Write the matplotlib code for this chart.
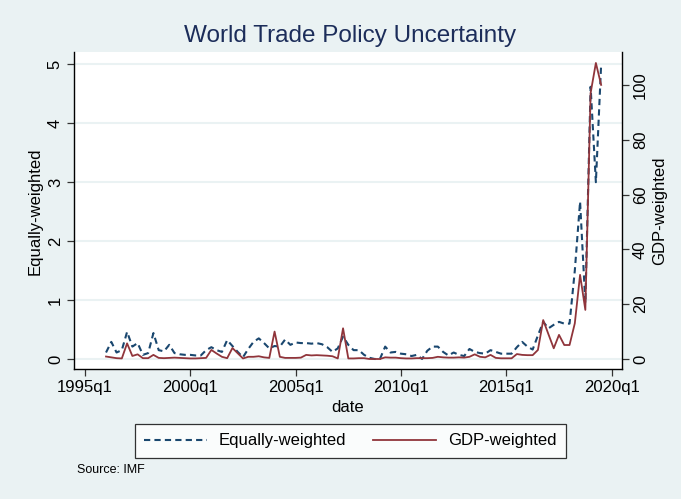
import matplotlib
matplotlib.use('Agg')
import matplotlib.pyplot as plt
from matplotlib.lines import Line2D
import numpy as np

plt.rcParams['font.family'] = ['Liberation Sans', 'DejaVu Sans']

start_year = 1996  # first quarter: 1996q1

equally_weighted = [
    0.11, 0.29, 0.11, 0.15,   # 1996
    0.46, 0.21, 0.27, 0.07,   # 1997
    0.10, 0.44, 0.15, 0.13,   # 1998
    0.24, 0.10, 0.08, 0.07,   # 1999
    0.07, 0.06, 0.06, 0.15,   # 2000
    0.20, 0.15, 0.12, 0.32,   # 2001
    0.22, 0.12, 0.03, 0.17,   # 2002
    0.29, 0.35, 0.27, 0.18,   # 2003
    0.22, 0.21, 0.33, 0.24,   # 2004
    0.28, 0.27, 0.27, 0.26,   # 2005
    0.27, 0.25, 0.20, 0.12,   # 2006
    0.18, 0.38, 0.24, 0.15,   # 2007
    0.15, 0.07, 0.02, 0.00,   # 2008
    0.00, 0.21, 0.11, 0.12,   # 2009
    0.09, 0.08, 0.05, 0.07,   # 2010
    0.00, 0.14, 0.21, 0.21,   # 2011
    0.12, 0.06, 0.11, 0.07,   # 2012
    0.05, 0.17, 0.12, 0.10,   # 2013
    0.09, 0.15, 0.12, 0.09,   # 2014
    0.09, 0.09, 0.20, 0.29,   # 2015
    0.21, 0.16, 0.40, 0.63,   # 2016
    0.52, 0.58, 0.63, 0.60,   # 2017
    0.60, 1.50, 2.67, 0.95,   # 2018
    4.62, 3.00, 5.00,         # 2019
]

gdp_weighted = [
    0.9, 0.6, 0.3, 0.2,       # 1996
    5.7, 1.1, 1.7, 0.3,       # 1997
    0.3, 1.5, 0.4, 0.3,       # 1998
    0.4, 0.5, 0.4, 0.3,       # 1999
    0.2, 0.2, 0.3, 0.4,       # 2000
    3.3, 2.0, 0.8, 0.3,       # 2001
    4.0, 2.1, 0.2, 0.8,       # 2002
    0.8, 1.0, 0.6, 0.4,       # 2003
    10.0, 0.8, 0.4, 0.4,      # 2004
    0.4, 0.5, 1.5, 1.3,       # 2005
    1.4, 1.3, 1.2, 1.0,       # 2006
    0.2, 11.2, 0.2, 0.2,      # 2007
    0.3, 0.3, 0.0, 0.0,       # 2008
    0.0, 0.6, 0.5, 0.5,       # 2009
    0.3, 0.2, 0.2, 0.3,       # 2010
    0.3, 0.3, 0.4, 0.8,       # 2011
    0.6, 0.5, 0.5, 0.6,       # 2012
    0.5, 0.8, 1.7, 0.8,       # 2013
    0.6, 1.5, 0.4, 0.25,      # 2014
    0.25, 0.25, 1.8, 1.5,     # 2015
    1.4, 1.4, 3.3, 14.2,      # 2016
    9.0, 3.9, 8.8, 5.1,       # 2017
    5.1, 13.0, 30.7, 17.9,    # 2018
    97.0, 108.0, 100.0,       # 2019
]

x_ticks = [1995, 2000, 2005, 2010, 2015, 2020]
x_tick_labels = ['1995q1', '2000q1', '2005q1', '2010q1', '2015q1', '2020q1']
left_ticks = [0, 1, 2, 3, 4, 5]
right_ticks = [0, 20, 40, 60, 80, 100]

dates = start_year + np.arange(len(equally_weighted)) / 4.0

BG = '#eaf2f3'
NAVY = '#1a476f'
MAROON = '#90353b'

W, H = 681, 499
fig = plt.figure(figsize=(W / 100, H / 100), dpi=100, facecolor=BG)
L, R, T, B = 74, 622, 52, 369
ax = fig.add_axes([L / W, 1 - B / H, (R - L) / W, (B - T) / H])
ax.set_facecolor('white')
ax2 = ax.twinx()

ax.plot(dates, equally_weighted, color=NAVY, lw=1.5, ls=(0, (3, 2)),
        dash_capstyle='butt', zorder=3)
ax2.plot(dates, gdp_weighted, color=MAROON, lw=1.3, zorder=3)

ax.set_xlim(1994.48, 2020.49)
ax.set_ylim(-0.17, 5.21)
ax2.set_ylim(-3.65, 112.0)

ax.set_xticks(x_ticks)
ax.set_xticklabels(x_tick_labels)
ax.set_yticks(left_ticks)
ax2.set_yticks(right_ticks)

ax.yaxis.grid(True, color=BG, lw=1.5)
ax.set_axisbelow(True)

for a in (ax, ax2):
    a.spines['top'].set_visible(False)
    for s in a.spines.values():
        s.set_linewidth(1.0)
        s.set_color('black')
ax.spines['right'].set_visible(False)
ax2.spines['left'].set_visible(False)
ax2.spines['bottom'].set_visible(False)

ax.tick_params(axis='both', direction='out', length=5, width=0.9,
               color='#333333', labelsize=12, pad=3)
ax2.tick_params(axis='y', direction='out', length=5, width=0.9,
                color='#333333', labelsize=12, pad=3)
for lbl in ax.get_yticklabels():
    lbl.set_rotation(90)
    lbl.set_va('center')
for lbl in ax2.get_yticklabels():
    lbl.set_rotation(90)
    lbl.set_va('center')

fig.text(350 / W, 1 - 36 / H, 'World Trade Policy Uncertainty',
         ha='center', va='center', fontsize=17.5, color='#1c2d5a')
fig.text(348 / W, 1 - 408 / H, 'date', ha='center', va='center', fontsize=12)
fig.text(35 / W, 1 - 211 / H, 'Equally-weighted', ha='center', va='center',
         rotation=90, fontsize=12)
fig.text(660 / W, 1 - 211 / H, 'GDP-weighted', ha='center', va='center',
         rotation=90, fontsize=12)
fig.text(77 / W, 1 - 470 / H, 'Source: IMF', ha='left', va='center', fontsize=9)

handles = [Line2D([], [], color=NAVY, lw=1.5, ls=(0, (3, 2))),
           Line2D([], [], color=MAROON, lw=1.3)]
leg = fig.legend(handles, ['Equally-weighted', 'GDP-weighted'],
                 loc='center', bbox_to_anchor=(350 / W, 1 - 441 / H),
                 ncol=2, fontsize=12, frameon=True, fancybox=False,
                 edgecolor='black', handlelength=3.8, columnspacing=1.6,
                 handletextpad=0.7, borderpad=0.55, borderaxespad=0)
leg.get_frame().set_linewidth(0.9)

fig.savefig('out.png', dpi=100, facecolor=BG)
